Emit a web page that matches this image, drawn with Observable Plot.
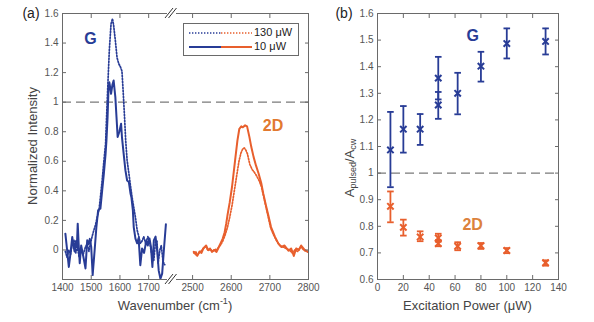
<!DOCTYPE html>
<html><head><meta charset="utf-8">
<script src="https://cdn.jsdelivr.net/npm/d3@7"></script>
<script src="https://cdn.jsdelivr.net/npm/@observablehq/plot@0.6"></script>
<style>
body{margin:0;background:#fff;font-family:"Liberation Sans",Arial,sans-serif;}
#wrap{position:relative;width:594px;height:322px;overflow:hidden;background:#fff;}
#wrap svg{position:absolute;top:0;}
</style></head><body><div id="wrap"></div>
<script>
// ---------- Panel (a): Raman spectra ----------
const gWave10 = [1410,1416,1422,1428,1434,1438,1442,1447,1450,1453,1456,1460,1465,1469,1474,1480,1486,1491,1495,1500,1505,1512,1518,1524,1532,1538,1544,1550,1553,1557,1560,1563,1566,1569,1574,1578,1581,1584,1588,1592,1598,1604,1607,1613,1619,1625,1631,1637,1640,1645,1648,1654,1660,1665,1671,1677,1684,1692,1697,1703,1708,1713,1718,1724,1730,1735,1741,1747,1753,1760];
const gInt10  = [0.11,0.0,-0.115,-0.02,0.088,0.03,-0.01,0.06,0.02,0.178,0.05,-0.09,0.03,-0.01,-0.06,-0.125,0.065,0.04,0.075,0.02,-0.17,0.0,0.155,0.268,0.28,0.40,0.516,0.65,0.74,0.90,1.08,1.135,1.10,1.057,1.12,1.147,1.09,1.034,0.90,0.764,0.80,0.854,0.764,0.65,0.54,0.47,0.46,0.38,0.355,0.268,0.155,0.077,0.045,0.08,-0.103,0.01,-0.02,0.065,0.03,0.077,0.02,-0.115,0.065,0.09,-0.01,-0.14,-0.195,-0.16,0.0,0.174];
const gWave130 = [1410,1416,1422,1428,1434,1440,1446,1452,1458,1465,1472,1480,1486,1492,1498,1503,1509,1515,1521,1527,1532,1538,1544,1550,1553,1559,1563,1569,1574,1578,1584,1590,1596,1602,1607,1611,1616,1620,1625,1631,1637,1642,1648,1654,1660,1666,1671,1677,1683,1690,1697,1703,1708,1713,1718,1724,1729,1733,1739,1744,1750,1756];
const gInt130  = [-0.01,-0.05,0.0,-0.03,0.04,0.065,-0.02,0.02,-0.05,0.0,-0.03,0.02,0.043,-0.01,0.05,0.09,0.133,0.17,0.223,0.27,0.358,0.47,0.60,0.72,0.876,1.17,1.35,1.53,1.565,1.52,1.417,1.30,1.26,1.237,1.21,1.08,0.90,0.74,0.606,0.52,0.43,0.36,0.29,0.22,0.133,0.09,0.045,0.06,0.09,0.04,0.09,0.06,0.0,-0.05,-0.07,0.06,0.06,-0.09,0.0,0.03,-0.08,-0.1];
const dWave10 = [2503,2508,2512,2518,2523,2528,2535,2540,2545,2550,2556,2562,2567,2572,2578,2583,2587,2591,2596,2602,2610,2616,2621,2626,2630,2636,2641,2647,2652,2658,2664,2671,2678,2683,2690,2696,2703,2713,2722,2730,2738,2748,2755,2762,2768,2775,2781,2790,2798];
const dInt10  = [-0.013,-0.03,-0.04,-0.01,-0.02,0.01,0.03,0.0,0.01,-0.013,0.0,-0.013,0.015,0.043,0.077,0.12,0.178,0.246,0.32,0.426,0.606,0.74,0.82,0.836,0.83,0.843,0.836,0.765,0.696,0.628,0.572,0.516,0.449,0.381,0.30,0.235,0.155,0.09,0.043,0.02,0.03,-0.005,0.01,-0.04,0.01,0.0,0.03,0.0,-0.013];
const dWave130 = [2503,2508,2512,2518,2523,2530,2535,2540,2546,2552,2558,2563,2568,2573,2578,2584,2590,2596,2602,2608,2614,2620,2625,2630,2634,2638,2642,2648,2654,2660,2666,2672,2678,2684,2690,2696,2702,2710,2718,2726,2734,2742,2750,2758,2765,2772,2780,2790,2798];
const dInt130  = [-0.02,-0.01,-0.035,-0.015,-0.005,0.02,0.02,-0.005,0.005,-0.01,0.005,0.0,0.02,0.035,0.06,0.10,0.15,0.22,0.30,0.40,0.50,0.60,0.655,0.685,0.69,0.675,0.65,0.58,0.545,0.525,0.50,0.47,0.43,0.36,0.29,0.22,0.15,0.10,0.06,0.03,0.02,0.01,0.0,-0.02,0.0,-0.01,0.02,-0.005,-0.01];
const xTicksA = [1400,1500,1600,1700,2500,2600,2700,2800];
const yTicksA = [0,0.2,0.4,0.6,0.8,1,1.2,1.4,1.6];
const xBreakA = [1400,1783,2448,2800];      // broken axis: first and second segment
const legendLabels = ["130 μW","10 μW"];

// ---------- Panel (b): area ratio vs power ----------
const power   = [10,20,33,47,47,62,80,100,130];
const gRatio  = [1.087,1.165,1.165,1.357,1.256,1.300,1.402,1.487,1.495];
const gLow    = [0.947,1.077,1.106,1.277,1.204,1.221,1.344,1.431,1.446];
const gHigh   = [1.230,1.252,1.222,1.437,1.305,1.377,1.456,1.544,1.544];
const dRatio  = [0.875,0.796,0.760,0.756,0.735,0.725,0.727,0.709,0.663];
const dLow    = [0.815,0.765,0.744,0.742,0.725,0.710,0.715,0.699,0.652];
const dHigh   = [0.931,0.825,0.781,0.772,0.748,0.740,0.737,0.718,0.672];
const xTicksB = [0,20,40,60,80,100,120,140];
const yTicksB = [0.6,0.7,0.8,0.9,1,1.1,1.2,1.3,1.4,1.5,1.6];

const BLUE = "#283c96", ORANGE = "#e85f2d", LBL2D = "#e2792f";
const FRAME = "#6a6a6a", TICKTXT = "#555", TITLE = "#444";
const FONT = "Liberation Sans, Arial, sans-serif";
const DOT = "1.4,1.6";

const zip = (xs, ys) => xs.map((x, i) => ({x, y: ys[i]}));
const fmt = d => String(d);

function frameAxes(xTicks, yTicks) {
  return [
    Plot.axisX(xTicks, {anchor: "bottom", tickSize: -4, tickPadding: 8, stroke: FRAME, fill: TICKTXT, tickFormat: fmt, label: null}),
    Plot.axisX(xTicks, {anchor: "top", tickSize: -4, stroke: FRAME, tickFormat: () => "", label: null}),
    Plot.axisY(yTicks, {anchor: "left", tickSize: -4, tickPadding: 8, stroke: FRAME, fill: TICKTXT, tickFormat: fmt, label: null}),
    Plot.axisY(yTicks, {anchor: "right", tickSize: -4, stroke: FRAME, tickFormat: () => "", label: null})
  ];
}

const wrap = document.getElementById("wrap");

// Panel (a)
const svgA = Plot.plot({
  width: 310, height: 322,
  marginLeft: 62, marginRight: 2, marginTop: 13, marginBottom: 43,
  style: {fontFamily: FONT, fontSize: "10px", background: "transparent", overflow: "visible"},
  x: {type: "linear", domain: xBreakA, range: [62, 172, 172, 308]},
  y: {domain: [-0.2, 1.6]},
  marks: [
    Plot.ruleY([1], {stroke: "#7a7a7a", strokeWidth: 1.3, strokeDasharray: "9,5"}),
    Plot.line(zip(gWave130, gInt130), {x: "x", y: "y", stroke: BLUE, strokeWidth: 1.7, strokeDasharray: DOT}),
    Plot.line(zip(gWave10, gInt10), {x: "x", y: "y", stroke: BLUE, strokeWidth: 2}),
    Plot.line(zip(dWave130, dInt130), {x: "x", y: "y", stroke: ORANGE, strokeWidth: 1.7, strokeDasharray: DOT}),
    Plot.line(zip(dWave10, dInt10), {x: "x", y: "y", stroke: ORANGE, strokeWidth: 2}),
    Plot.text([{t: "G", x: 1497, y: 1.43}], {x: "x", y: "y", text: "t", fill: BLUE, fontSize: 16, fontWeight: "bold"}),
    Plot.text([{t: "2D", x: 2708, y: 0.84}], {x: "x", y: "y", text: "t", fill: LBL2D, fontSize: 16, fontWeight: "bold"}),
    Plot.frame({stroke: FRAME}),
    ...frameAxes(xTicksA, yTicksA)
  ]
});
svgA.style.left = "0px";
wrap.appendChild(svgA);

// Panel (b)
const gPts = power.map((p, i) => ({x: p, y: gRatio[i], lo: gLow[i], hi: gHigh[i]}));
const dPts = power.map((p, i) => ({x: p, y: dRatio[i], lo: dLow[i], hi: dHigh[i]}));
const cap = {draw(ctx, size) { const w = Math.sqrt(size / Math.PI); ctx.moveTo(-w, 0); ctx.lineTo(w, 0); }};
function errMarks(pts, color) {
  return [
    Plot.ruleX(pts, {x: "x", y1: "lo", y2: "hi", stroke: color, strokeWidth: 1.8}),
    Plot.dot(pts, {x: "x", y: "lo", symbol: cap, r: 3.3, stroke: color, fill: "none", strokeWidth: 1.8}),
    Plot.dot(pts, {x: "x", y: "hi", symbol: cap, r: 3.3, stroke: color, fill: "none", strokeWidth: 1.8}),
    Plot.dot(pts, {x: "x", y: "y", symbol: "times", r: 3, stroke: color, strokeWidth: 2})
  ];
}
const svgB = Plot.plot({
  width: 284, height: 322,
  marginLeft: 67, marginRight: 36, marginTop: 13, marginBottom: 43,
  style: {fontFamily: FONT, fontSize: "10px", background: "transparent", overflow: "visible"},
  x: {domain: [0, 140]},
  y: {domain: [0.6, 1.6]},
  marks: [
    Plot.ruleY([1], {stroke: "#7a7a7a", strokeWidth: 1.3, strokeDasharray: "9,5"}),
    ...errMarks(gPts, BLUE),
    ...errMarks(dPts, ORANGE),
    Plot.text([{t: "G", x: 73.6, y: 1.515}], {x: "x", y: "y", text: "t", fill: BLUE, fontSize: 16, fontWeight: "bold"}),
    Plot.text([{t: "2D", x: 73.6, y: 0.806}], {x: "x", y: "y", text: "t", fill: "#dc823c", fontSize: 16, fontWeight: "bold"}),
    Plot.frame({stroke: FRAME}),
    ...frameAxes(xTicksB, yTicksB)
  ]
});
svgB.style.left = "310px";
wrap.appendChild(svgB);

// ---------- annotations: titles, panel letters, axis break, legend ----------
function addText(svg, x, y, parts, opts = {}) {
  const t = d3.select(svg).append("text")
    .attr("x", x).attr("y", y)
    .attr("text-anchor", opts.anchor || "middle")
    .attr("dominant-baseline", "middle")
    .attr("font-family", FONT)
    .attr("font-size", opts.size || 13)
    .attr("fill", opts.fill || TITLE);
  if (opts.rotate) t.attr("transform", `rotate(${opts.rotate},${x},${y})`);
  for (const p of parts) {
    const s = t.append("tspan").text(p.text);
    if (p.dy) s.attr("dy", p.dy);
    if (p.size) s.attr("font-size", p.size);
  }
  return t;
}
const sxA = svgA.scale("x"), syA = svgA.scale("y");
const sxB = svgB.scale("x"), syB = svgB.scale("y");
const midA = (syA.apply(1.6) + syA.apply(-0.2)) / 2;

addText(svgA, 31, 14, [{text: "(a)"}], {size: 14, fill: "#222"});
addText(svgA, 34, midA, [{text: "Normalized Intensity"}], {rotate: -90});
addText(svgA, 175, 307, [{text: "Wavenumber (cm"}, {text: "-1", dy: -5, size: 9}, {text: ")", dy: 5}]);

addText(svgB, 34, 14, [{text: "(b)"}], {size: 14, fill: "#222"});
addText(svgB, (sxB.apply(0) + sxB.apply(140)) / 2, 307, [{text: "Excitation Power (μW)"}]);
addText(svgB, 41, 168, [{text: "A"}, {text: "pulsed", dy: 3, size: 9}, {text: "/A", dy: -3}, {text: "cw", dy: 3, size: 9}], {rotate: -90});

// axis break marks
const bx = sxA.apply(xBreakA[1]);
const g = d3.select(svgA).append("g");
for (const yy of [syA.apply(1.6), syA.apply(-0.2)]) {
  g.append("rect").attr("x", bx - 5).attr("y", yy - 2).attr("width", 9).attr("height", 4).attr("fill", "#fff");
  for (const off of [-3, 0.5]) {
    g.append("line").attr("x1", bx + off - 4).attr("y1", yy + 5).attr("x2", bx + off + 4).attr("y2", yy - 5)
      .attr("stroke", "#333").attr("stroke-width", 1);
  }
}

// legend
const lg = d3.select(svgA).append("g");
lg.append("rect").attr("x", 183.5).attr("y", 23.5).attr("width", 115).attr("height", 32)
  .attr("fill", "#fff").attr("stroke", FRAME).attr("stroke-width", 1);
[[33, DOT, 1.7], [47, null, 2]].forEach(([yy, dash, w], i) => {
  const l1 = lg.append("line").attr("x1", 189).attr("x2", 221).attr("y1", yy).attr("y2", yy).attr("stroke", BLUE).attr("stroke-width", w);
  const l2 = lg.append("line").attr("x1", 221).attr("x2", 252).attr("y1", yy).attr("y2", yy).attr("stroke", ORANGE).attr("stroke-width", w);
  if (dash) { l1.attr("stroke-dasharray", dash); l2.attr("stroke-dasharray", dash); }
  lg.append("text").attr("x", 254).attr("y", yy).attr("dominant-baseline", "middle").attr("text-anchor", "start")
    .attr("font-family", FONT).attr("font-size", 11).attr("fill", "#222").text(legendLabels[i]);
});
</script></body></html>
